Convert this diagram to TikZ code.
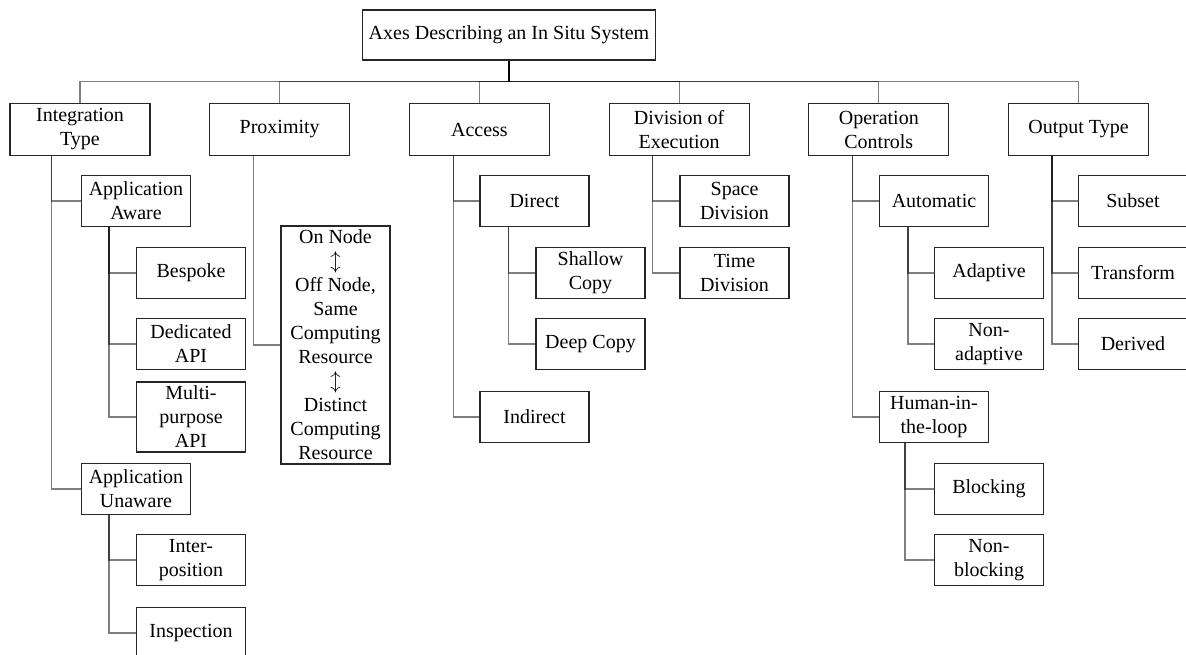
\documentclass[tikz,border=0pt]{standalone}
\usepackage{fontspec}
\setmainfont{Liberation Serif}
\usetikzlibrary{calc}

\begin{document}
\begin{tikzpicture}[x=1pt, y=-1pt, font=\fontsize{20}{24}\selectfont,
  box/.style={draw=black!85, line width=1.2pt, align=center, inner sep=4pt},
  top/.style={box, minimum width=140pt, minimum height=52pt},
  sub/.style={box, minimum width=109pt, minimum height=51pt},
  link/.style={draw=black, draw opacity=0.5, line width=1.2pt}]
\useasboundingbox (0,0) rectangle (1186,654);
% root and the six axes
\node[box, minimum width=293pt, minimum height=50pt] (root) at (509,35) {Axes Describing an In Situ System};
\node[top] (integ) at (80,129.5) {Integration\\Type};
\node[top] (prox) at (279.7,129.5) {Proximity};
\node[top] (acc) at (479.4,129.5) {Access};
\node[top] (div) at (679.1,129.5) {Division of\\Execution};
\node[top] (ctl) at (878.8,129.5) {Operation\\Controls};
\node[top] (out) at (1078.5,129.5) {Output Type};
% integration type
\node[sub] (aware) at (136,201) {Application\\Aware};
\node[sub] (besp) at (191,273) {Bespoke};
\node[sub] (dapi) at (191,344) {Dedicated\\API};
\node[sub] (mapi) at (191,417) {Multi-\\purpose\\API};
\node[sub] (unaware) at (136,489) {Application\\Unaware};
\node[sub] (inter) at (191,560) {Inter-\\position};
\node[sub] (insp) at (191,633) {Inspection};
% proximity
\node[sub] (range) at (335.5,345) {On Node\\$\updownarrow$\\Off Node,\\Same\\Computing\\Resource\\$\updownarrow$\\Distinct\\Computing\\Resource};
% access
\node[sub] (direct) at (534.5,201) {Direct};
\node[sub] (shallow) at (590.5,273) {Shallow\\Copy};
\node[sub] (deep) at (590.5,344) {Deep Copy};
\node[sub] (indirect) at (534.5,417) {Indirect};
% division of execution
\node[sub] (space) at (734.5,201) {Space\\Division};
\node[sub] (time) at (734.5,273) {Time\\Division};
% operation controls
\node[sub] (auto) at (934,201) {Automatic};
\node[sub] (adapt) at (989,273) {Adaptive};
\node[sub] (nadapt) at (989,344) {Non-\\adaptive};
\node[sub] (human) at (934,417) {Human-in-\\the-loop};
\node[sub] (block) at (989,489) {Blocking};
\node[sub] (nblock) at (989,560) {Non-\\blocking};
% output type
\node[sub] (subset) at (1133,201) {Subset};
\node[sub] (transf) at (1133,273) {Transform};
\node[sub] (deriv) at (1133,344) {Derived};
% connectors
\draw[link] (root.south) -- ++(0,21) -| (integ.north); \draw[link] (root.south) -- ++(0,21) -| (prox.north);
\draw[link] (root.south) -- ++(0,21) -| (acc.north); \draw[link] (root.south) -- ++(0,21) -| (div.north);
\draw[link] (root.south) -- ++(0,21) -| (ctl.north); \draw[link] (root.south) -- ++(0,21) -| (out.north);
\draw[link] ($(integ.south west)+(42,0)$) |- (aware.west); \draw[link] ($(integ.south west)+(42,0)$) |- (unaware.west);
\draw[link] ($(aware.south west)+(28,0)$) |- (besp.west); \draw[link] ($(aware.south west)+(28,0)$) |- (dapi.west);
\draw[link] ($(aware.south west)+(28,0)$) |- (mapi.west);
\draw[link] ($(unaware.south west)+(28,0)$) |- (inter.west); \draw[link] ($(unaware.south west)+(28,0)$) |- (insp.west);
\draw[link] ($(prox.south west)+(44,0)$) |- (range.west);
\draw[link] ($(acc.south west)+(45,0)$) |- (direct.west); \draw[link] ($(acc.south west)+(45,0)$) |- (indirect.west);
\draw[link] ($(direct.south west)+(29,0)$) |- (shallow.west); \draw[link] ($(direct.south west)+(29,0)$) |- (deep.west);
\draw[link] ($(div.south west)+(44,0)$) |- (space.west); \draw[link] ($(div.south west)+(44,0)$) |- (time.west);
\draw[link] ($(ctl.south west)+(44,0)$) |- (auto.west); \draw[link] ($(ctl.south west)+(44,0)$) |- (human.west);
\draw[link] ($(auto.south west)+(29,0)$) |- (adapt.west); \draw[link] ($(auto.south west)+(29,0)$) |- (nadapt.west);
\draw[link] ($(human.south west)+(26,0)$) |- (block.west); \draw[link] ($(human.south west)+(26,0)$) |- (nblock.west);
\draw[link] ($(out.south west)+(44,0)$) |- (subset.west); \draw[link] ($(out.south west)+(44,0)$) |- (transf.west);
\draw[link] ($(out.south west)+(44,0)$) |- (deriv.west);
\end{tikzpicture}
\end{document}
